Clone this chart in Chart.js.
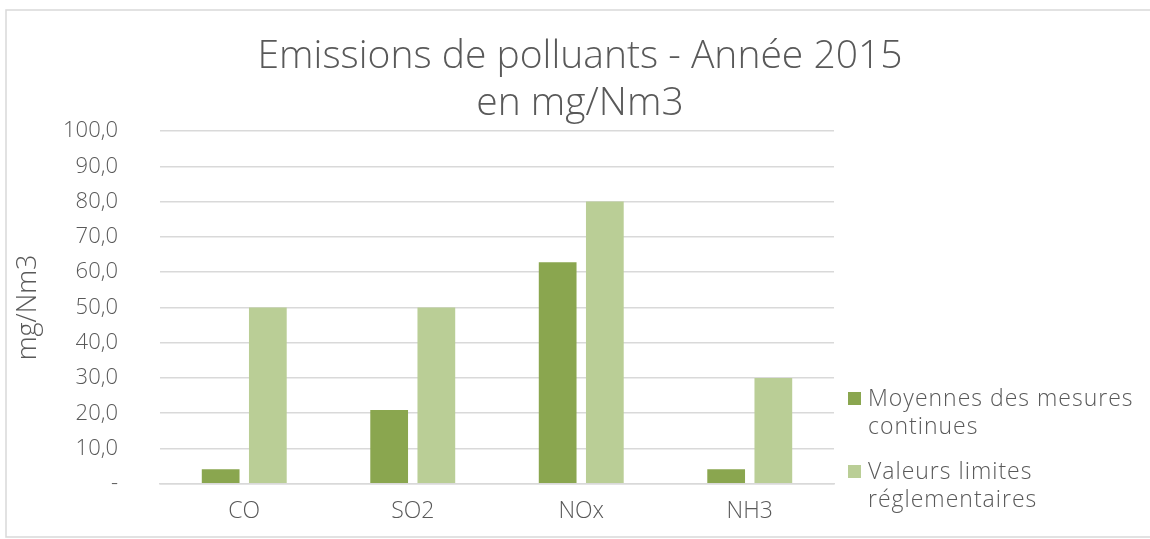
<!DOCTYPE html>
<html>
<head>
<meta charset="utf-8">
<script src="https://cdn.jsdelivr.net/npm/chart.js@4"></script>
<style>
    body { margin: 0; background: #fff; }
    #wrap { width: 1150px; height: 539px; }
</style>
</head>
<body>
<div id="wrap"><canvas id="myChart" width="1150" height="539"></canvas></div>
<script>
const categories = ['CO', 'SO2', 'NOx', 'NH3'];
const moyennes = [4.1, 20.9, 62.8, 4.1];
const limites = [50, 50, 80, 30];
const seriesNames = [['Moyennes des mesures', 'continues'], ['Valeurs limites', 'réglementaires']];
const titleLines = ['Emissions de polluants - Année 2015', 'en mg/Nm3'];
const yTitle = 'mg/Nm3';

const FONT = "'Open Sans', 'DejaVu Sans', sans-serif";
const TEXT = '#595959';
const GRID = '#D9D9D9';
const DARK = '#8AA64F';
const LIGHT = '#BACE96';

// white background, frame, title and the right-hand legend
const decor = {
    id: 'decor',
    beforeDraw(chart) {
        const ctx = chart.ctx;
        ctx.save();
        ctx.fillStyle = '#fff';
        ctx.fillRect(0, 0, chart.width, chart.height);
        ctx.strokeStyle = GRID;
        ctx.lineWidth = 1.5;
        ctx.strokeRect(6, 10, chart.width + 10, 527);
        ctx.restore();
    },
    afterDraw(chart) {
        const ctx = chart.ctx;
        const area = chart.chartArea;
        ctx.save();
        ctx.fillStyle = TEXT;
        ctx.textAlign = 'center';
        ctx.textBaseline = 'alphabetic';
        ctx.font = '300 39px ' + FONT;
        ctx.fillText(titleLines[0], 580, 68);
        ctx.fillText(titleLines[1], 580, 115);

        ctx.textAlign = 'left';
        ctx.font = '300 23px ' + FONT;
        ctx.letterSpacing = '1px';
        const colors = [DARK, LIGHT];
        let y = 406;
        for (let i = 0; i < seriesNames.length; i++) {
            ctx.fillStyle = colors[i];
            ctx.fillRect(area.right + 14, y - 14, 13, 13);
            ctx.fillStyle = TEXT;
            for (let j = 0; j < seriesNames[i].length; j++) {
                ctx.fillText(seriesNames[i][j], area.right + 34, y + j * 28);
            }
            y += 73;
        }
        ctx.letterSpacing = '0px';
        ctx.restore();
    }
};

new Chart(document.getElementById('myChart'), {
    type: 'bar',
    data: {
        labels: categories,
        datasets: [{
            label: seriesNames[0].join(' '),
            data: moyennes,
            backgroundColor: DARK,
            categoryPercentage: 0.56,
            barPercentage: 0.8
        }, {
            label: seriesNames[1].join(' '),
            data: limites,
            backgroundColor: LIGHT,
            categoryPercentage: 0.56,
            barPercentage: 0.8
        }]
    },
    options: {
        responsive: false,
        animation: false,
        layout: { padding: { top: 131, right: 316, bottom: 0, left: 0 } },
        plugins: {
            legend: { display: false },
            title: { display: false },
            tooltip: { enabled: false }
        },
        scales: {
            x: {
                grid: { display: false, drawTicks: false },
                border: { color: GRID, width: 1.5 },
                ticks: { color: TEXT, font: { family: FONT, size: 23, weight: 300 }, padding: 14 },
                afterFit: (s) => { s.height = 53; }
            },
            y: {
                min: 0,
                max: 100,
                ticks: {
                    stepSize: 10,
                    color: TEXT,
                    font: { family: FONT, size: 22, weight: 300 },
                    padding: 42,
                    callback: (v) => v === 0 ? '-' : v.toFixed(1).replace('.', ',')
                },
                grid: { color: GRID, lineWidth: 1.5, drawTicks: false },
                border: { display: false },
                title: {
                    display: true,
                    text: yTitle,
                    color: TEXT,
                    font: { family: FONT, size: 27, weight: 300 },
                    padding: { top: 12, bottom: 0 }
                },
                afterFit: (s) => { s.width = 160; }
            }
        }
    },
    plugins: [decor]
});
</script>
</body>
</html>
